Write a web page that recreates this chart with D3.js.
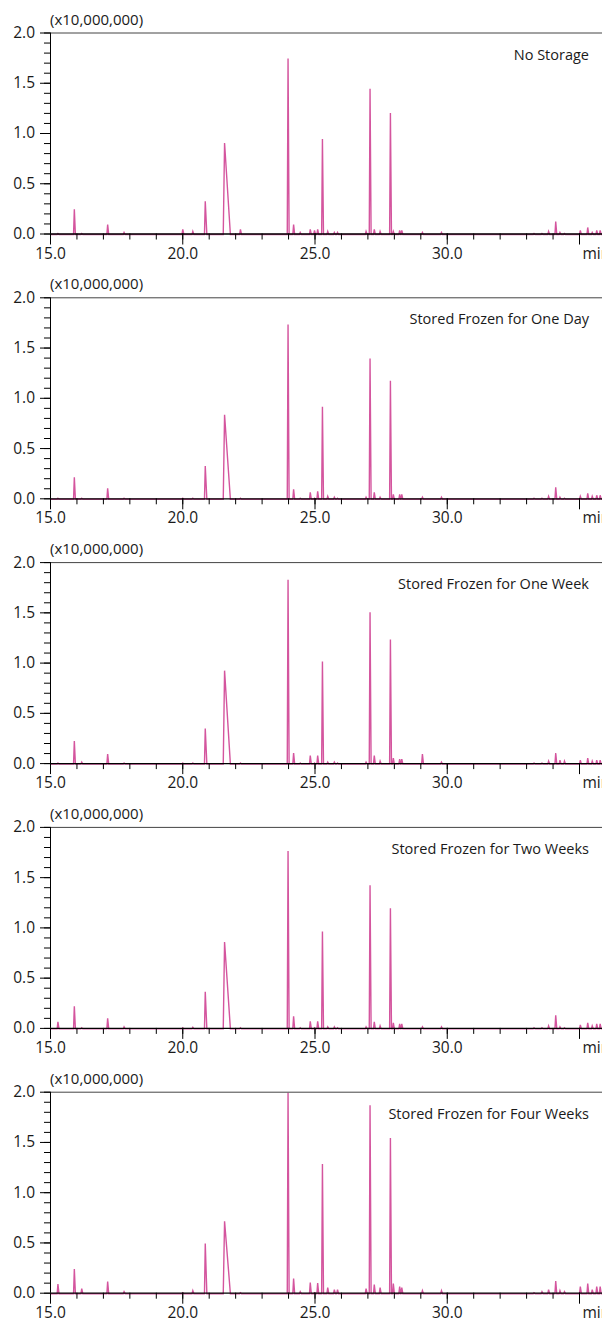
<!DOCTYPE html>
<html>
<head>
<meta charset="utf-8">
<script src="https://cdn.jsdelivr.net/npm/d3@7"></script>
<style>
body { margin: 0; background: #fff; }
svg text { font-family: "Open Sans", sans-serif; fill: #1a1a1a; }
</style>
</head>
<body>
<script>

// retention times of the peaks (min), shared by all five runs
var times = [15.30, 15.92, 16.20, 17.18, 17.80, 20.02, 20.40, 20.87, 21.60, 22.20,
             24.00, 24.21, 24.46, 24.84, 25.00, 25.12, 25.30, 25.50, 25.75, 25.87,
             26.95, 27.10, 27.26, 27.48, 27.87, 27.98, 28.22, 28.30, 29.08, 29.80,
             33.30, 33.60, 33.85, 34.12, 34.28, 34.45, 35.05, 35.33, 35.50, 35.67, 35.80];

// peak heights (x10,000,000)
var noStorage = [0.01, 0.25, 0.01, 0.10, 0.02, 0.05, 0.03, 0.33, 0.91, 0.05,
                 1.75, 0.10, 0.02, 0.05, 0.04, 0.05, 0.95, 0.03, 0.02, 0.02,
                 0.03, 1.45, 0.05, 0.03, 1.21, 0.03, 0.04, 0.04, 0.02, 0.02,
                 0.01, 0.01, 0.03, 0.13, 0.02, 0.01, 0.04, 0.07, 0.02, 0.04, 0.04];
var oneDay =    [0.01, 0.22, 0.01, 0.11, 0.01, 0.01, 0.01, 0.33, 0.84, 0.01,
                 1.74, 0.10, 0.01, 0.07, 0.01, 0.08, 0.92, 0.03, 0.02, 0.01,
                 0.02, 1.40, 0.07, 0.02, 1.18, 0.05, 0.05, 0.05, 0.02, 0.02,
                 0.01, 0.01, 0.03, 0.12, 0.02, 0.01, 0.03, 0.06, 0.03, 0.04, 0.04];
var oneWeek =   [0.01, 0.23, 0.02, 0.10, 0.01, 0.01, 0.01, 0.355, 0.93, 0.01,
                 1.835, 0.11, 0.01, 0.085, 0.01, 0.085, 1.02, 0.02, 0.02, 0.01,
                 0.02, 1.51, 0.085, 0.03, 1.24, 0.06, 0.05, 0.05, 0.10, 0.02,
                 0.01, 0.01, 0.03, 0.11, 0.04, 0.03, 0.04, 0.06, 0.03, 0.04, 0.04];
var twoWeeks =  [0.07, 0.225, 0.01, 0.105, 0.02, 0.01, 0.015, 0.37, 0.865, 0.01,
                 1.77, 0.125, 0.01, 0.075, 0.01, 0.075, 0.97, 0.02, 0.02, 0.01,
                 0.02, 1.43, 0.07, 0.03, 1.20, 0.06, 0.05, 0.05, 0.02, 0.02,
                 0.01, 0.01, 0.03, 0.135, 0.02, 0.01, 0.04, 0.06, 0.03, 0.05, 0.05];
var fourWeeks = [0.095, 0.245, 0.05, 0.12, 0.02, 0.01, 0.03, 0.50, 0.72, 0.01,
                 2.00, 0.15, 0.02, 0.11, 0.01, 0.105, 1.29, 0.06, 0.04, 0.04,
                 0.05, 1.875, 0.09, 0.06, 1.55, 0.10, 0.07, 0.06, 0.03, 0.03,
                 0.01, 0.02, 0.04, 0.125, 0.03, 0.02, 0.07, 0.10, 0.04, 0.07, 0.07];

// front / tail width of each peak (min)
var peakRise = times.map(function(t) { return t == 21.60 ? 0.05 : 0.03; });
var peakFall = times.map(function(t) { return t == 21.60 ? 0.22 : (t == 20.87 ? 0.06 : 0.04); });

var runs = [noStorage, oneDay, oneWeek, twoWeeks, fourWeeks];
var runNames = ["No Storage", "Stored Frozen for One Day", "Stored Frozen for One Week",
                "Stored Frozen for Two Weeks", "Stored Frozen for Four Weeks"];

var yMajor = [0, 0.5, 1.0, 1.5, 2.0];
var yMinor = d3.range(0, 21).map(function(d) { return d / 10; });
var xMajor = [15, 20, 25, 30, 35];
var xMinor = d3.range(15, 37);

var width = 602;
var height = 1322;
var plotLeft = 50;
var firstTop = 32.5;
var panelH = 201;
var pitch = 264.8;

var x = d3.scaleLinear()
          .domain([15, 36])
          .range([plotLeft, plotLeft + 21 * 26.45]);

var y = d3.scaleLinear()
          .domain([0, 2])
          .range([panelH, 0]);

var line = d3.line()
             .x(function(d) { return x(d[0]); })
             .y(function(d) { return y(d[1]); });

var svg = d3.select("body")
            .append("svg")
            .attr("width", width)
            .attr("height", height);

svg.append("defs")
   .append("clipPath")
   .attr("id", "plotClip")
   .append("rect")
   .attr("x", plotLeft)
   .attr("y", -1)
   .attr("width", width - plotLeft)
   .attr("height", panelH + 4);

runs.forEach(function(heights, i) {

	var g = svg.append("g")
	           .attr("transform", "translate(0," + (firstTop + i * pitch) + ")");

	// baseline -> apex -> baseline for every peak
	var pts = [[15, 0]];
	times.forEach(function(t, k) {
		pts.push([t - peakRise[k], 0]);
		pts.push([t, heights[k]]);
		pts.push([t + peakFall[k], 0]);
	});
	pts.push([36, 0]);

	g.append("path")
	 .attr("clip-path", "url(#plotClip)")
	 .attr("transform", "translate(0,1)")
	 .attr("d", line(pts))
	 .style("fill", "none")
	 .style("stroke", "#d4559e")
	 .style("stroke-width", 1.4)
	 .style("stroke-linejoin", "miter");

	// top frame
	g.append("line")
	 .attr("x1", plotLeft)
	 .attr("x2", width)
	 .attr("y1", 0.5)
	 .attr("y2", 0.5)
	 .style("stroke", "#444");

	// y axis
	g.append("g")
	 .attr("transform", "translate(" + plotLeft + ",0)")
	 .call(d3.axisLeft(y).tickValues(yMinor).tickSize(6).tickFormat(""))
	 .call(function(a) { a.select(".domain").remove(); });
	var ya = g.append("g")
	          .attr("transform", "translate(" + plotLeft + ",0)")
	          .call(d3.axisLeft(y).tickValues(yMajor).tickSize(10).tickPadding(5).tickFormat(d3.format(".1f")));
	ya.select(".domain").attr("d", "M0.5,0V" + panelH);
	ya.selectAll("text").style("font-size", "15.5px").style("font-family", null);

	// x axis
	g.append("g")
	 .attr("transform", "translate(0," + panelH + ")")
	 .call(d3.axisBottom(x).tickValues(xMinor).tickSize(6).tickFormat(""))
	 .call(function(a) { a.select(".domain").remove(); });
	var xa = g.append("g")
	          .attr("transform", "translate(0," + panelH + ")")
	          .call(d3.axisBottom(x).tickValues(xMajor).tickSize(11).tickPadding(3)
	                .tickFormat(function(d) { return d == 35 ? "min" : d3.format(".1f")(d); }));
	xa.select(".domain").attr("d", "M" + plotLeft + ",0.5H" + width).style("stroke-width", 1.3);
	xa.selectAll("text").style("font-size", "15.5px").style("font-family", null);
	xa.selectAll(".tick")
	  .filter(function(d) { return d == 35; })
	  .select("text")
	  .attr("text-anchor", "start")
	  .attr("x", 3);

	// scale factor
	g.append("text")
	 .attr("x", plotLeft)
	 .attr("y", -8)
	 .style("font-size", "15px")
	 .text("(x10,000,000)");

	// run name
	g.append("text")
	 .attr("x", 589)
	 .attr("y", 27)
	 .attr("text-anchor", "end")
	 .style("font-size", "14.5px")
	 .text(runNames[i]);
});

</script>
</body>
</html>
